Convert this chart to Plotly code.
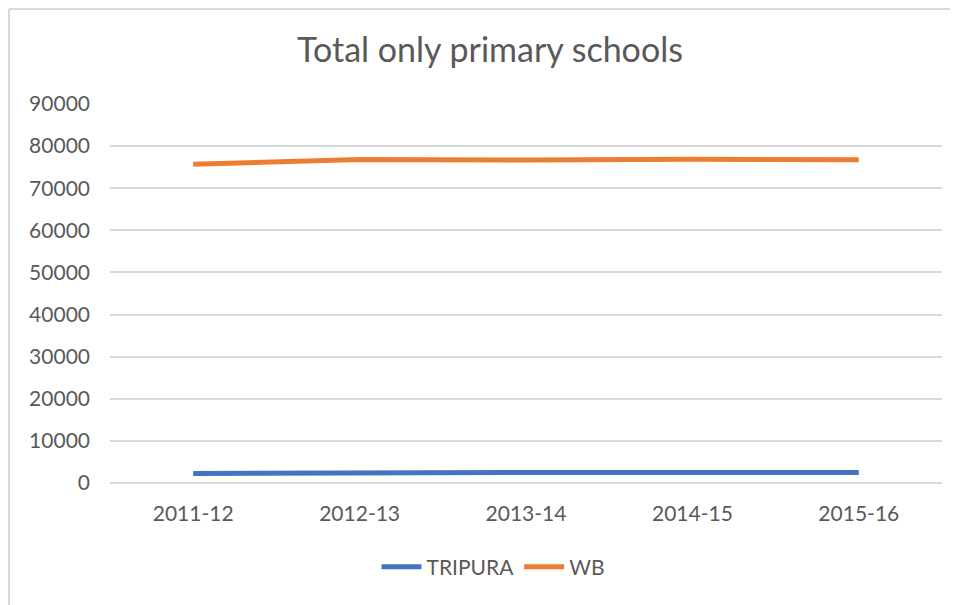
import plotly.graph_objects as go

years = ["2011-12", "2012-13", "2013-14", "2014-15", "2015-16"]
tripura = [2250, 2450, 2480, 2500, 2510]
wb = [75700, 76850, 76700, 76900, 76750]
y_ticks = [0, 10000, 20000, 30000, 40000, 50000, 60000, 70000, 80000, 90000]

FONT = "Lato"
GRAY = "#595959"
GRID = "#d9d9d9"

W, H = 958, 605
OFF = 8  # page body margin
# plot area in screen pixels: x 110..942, y 104..483
L, T = 110 - OFF, 104 - OFF
R, B = W - (942 - OFF), H - (483 - OFF)
pw, ph = W - L - R, H - T - B

def px(xs):
    return (xs - OFF - L) / pw

def py(ys):
    return 1 + (T - (ys - OFF)) / ph

fig = go.Figure()
fig.add_trace(go.Scatter(x=years, y=tripura, name="TRIPURA", mode="lines",
                         line=dict(color="#4472C4", width=5)))
fig.add_trace(go.Scatter(x=years, y=wb, name="WB", mode="lines",
                         line=dict(color="#ED7D31", width=5)))

fig.update_layout(
    width=W, height=H,
    margin=dict(l=L, r=R, t=T, b=B),
    paper_bgcolor="white", plot_bgcolor="white",
    font=dict(family=FONT, color=GRAY, size=21),
    title=dict(text="Total only primary schools", x=(490 - OFF) / W, xref="container",
               y=1 - (50 - OFF) / H, yref="container", xanchor="center", yanchor="middle",
               font=dict(size=34, color=GRAY, family=FONT)),
    xaxis=dict(type="category", range=[-0.5, 4.5], showgrid=False,
               showline=False, ticks="", tickfont=dict(size=21, color=GRAY),
               zeroline=False, ticklabelstandoff=16),
    yaxis=dict(range=[0, 90000], tickvals=y_ticks, ticktext=[str(v) for v in y_ticks],
               showgrid=True, gridcolor=GRID, gridwidth=1.5, zeroline=True,
               zerolinecolor=GRID, zerolinewidth=1.5, showline=False,
               ticks="", ticklabelstandoff=19, tickfont=dict(size=21, color=GRAY)),
    legend=dict(orientation="h", x=px(493), xanchor="center", y=py(567),
                yanchor="middle", font=dict(size=21, color=GRAY),
                itemwidth=40, traceorder="normal"),
    shapes=[
        dict(type="line", xref="paper", yref="paper", x0=px(9), x1=px(975),
             y0=py(9), y1=py(9), line=dict(color=GRID, width=2)),
        dict(type="line", xref="paper", yref="paper", x0=px(9), x1=px(9),
             y0=py(9), y1=py(620), line=dict(color=GRID, width=2)),
    ],
)

fig.write_html("out.html")
